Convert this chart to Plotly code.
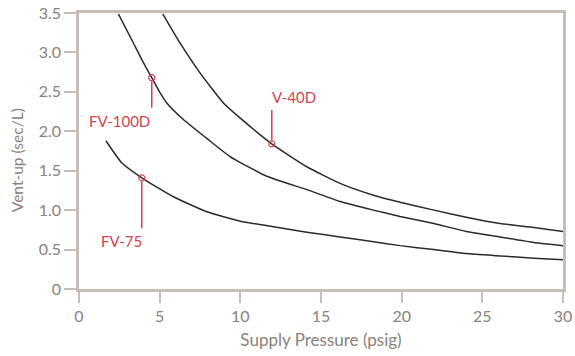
import plotly.graph_objects as go

# Data
fv75_x = [1.67, 2.65, 3.89, 5.85, 7.92, 10.0, 12.05, 14.12, 16.18, 18.25, 19.9, 22.0, 24.0, 26.1, 28.2, 30.0]
fv75_y = [1.88, 1.60, 1.41, 1.17, 0.98, 0.86, 0.79, 0.72, 0.66, 0.60, 0.55, 0.50, 0.45, 0.42, 0.39, 0.37]

fv100_x = [2.44, 3.37, 3.99, 4.51, 5.02, 5.44, 6.47, 7.92, 9.36, 11.64, 14.12, 16.18, 18.25, 19.9, 22.0, 24.0, 26.1, 28.2, 30.0]
fv100_y = [3.49, 3.12, 2.87, 2.68, 2.49, 2.36, 2.15, 1.91, 1.68, 1.43, 1.26, 1.11, 1.00, 0.92, 0.83, 0.73, 0.66, 0.59, 0.55]

v40_x = [5.19, 6.26, 7.5, 8.95, 9.98, 11.95, 14.12, 16.18, 18.25, 19.9, 22.0, 24.0, 26.1, 28.2, 30.0]
v40_y = [3.49, 3.12, 2.74, 2.36, 2.17, 1.84, 1.55, 1.34, 1.19, 1.10, 1.00, 0.91, 0.83, 0.78, 0.73]

labels = ["FV-100D", "V-40D", "FV-75"]
marker_x = [4.51, 11.95, 3.89]
marker_y = [2.68, 1.84, 1.41]
line_end_y = [2.30, 2.27, 0.77]
label_x = [4.55, 11.85, 4.05]
label_y = [2.13, 2.44, 0.61]
label_anchor = ["right", "left", "right"]

y_ticks = [0, 0.5, 1.0, 1.5, 2.0, 2.5, 3.0, 3.5]
y_ticktext = ["0", "0.5", "1.0", "1.5", "2.0", "2.5", "3.0", "3.5"]
x_ticks = [0, 5, 10, 15, 20, 25, 30]

x_title = "Supply Pressure (psig)"
y_title = "Vent-up (sec/L)"

AXIS = "#c8beb8"
TEXT = "#8a817c"
RED = "#d0434f"
LINE = "#2a2a2a"

fig = go.Figure()
for xs, ys in [(fv75_x, fv75_y), (fv100_x, fv100_y), (v40_x, v40_y)]:
    fig.add_trace(go.Scatter(x=xs, y=ys, mode="lines",
                             line=dict(color=LINE, width=1.5, shape="spline", smoothing=0.5),
                             hoverinfo="skip", showlegend=False, cliponaxis=True))

for i in range(len(labels)):
    y0 = marker_y[i] - 0.045 if line_end_y[i] < marker_y[i] else marker_y[i] + 0.045
    fig.add_shape(type="line", x0=marker_x[i], x1=marker_x[i], y0=y0, y1=line_end_y[i],
                  xref="x", yref="y", line=dict(color=RED, width=1.5))
    fig.add_annotation(x=label_x[i], y=label_y[i], text=labels[i], showarrow=False,
                       xanchor=label_anchor[i], yanchor="middle",
                       font=dict(family="Lato", size=15, color=RED))

fig.add_trace(go.Scatter(x=marker_x, y=marker_y, mode="markers",
                         marker=dict(symbol="circle-open", size=6, color=RED, line=dict(width=1.2)),
                         hoverinfo="skip", showlegend=False))

# y-axis title placed as a rotated annotation (centred slightly below plot centre, as in reference)
fig.add_annotation(x=-0.128, y=0.467, xref="paper", yref="paper", text=y_title, textangle=-90,
                   showarrow=False, xanchor="center", yanchor="middle",
                   font=dict(family="Lato", size=15.5, color=TEXT))

fig.update_layout(
    width=575, height=356,
    margin=dict(l=79, r=12, t=13, b=67),
    paper_bgcolor="white", plot_bgcolor="white",
    font=dict(family="Lato", color=TEXT),
    xaxis=dict(range=[0, 30], tickvals=x_ticks, showgrid=False, zeroline=False, automargin=False,
               showline=True, mirror=True, linecolor=AXIS, linewidth=2.5,
               ticks="outside", ticklen=11, tickwidth=2, tickcolor=AXIS,
               tickfont=dict(size=16, color=TEXT),
               title=dict(text=x_title, font=dict(size=17, color=TEXT), standoff=11)),
    yaxis=dict(range=[0, 3.5], tickvals=y_ticks, ticktext=y_ticktext, showgrid=False, zeroline=False,
               automargin=False,
               showline=True, mirror=True, linecolor=AXIS, linewidth=2.5,
               ticks="outside", ticklen=12, tickwidth=2, tickcolor=AXIS,
               tickfont=dict(size=16, color=TEXT)),
)

fig.write_html("out.html", config={"displayModeBar": False},
               post_script="document.body.style.margin='0';document.body.style.padding='0';")
